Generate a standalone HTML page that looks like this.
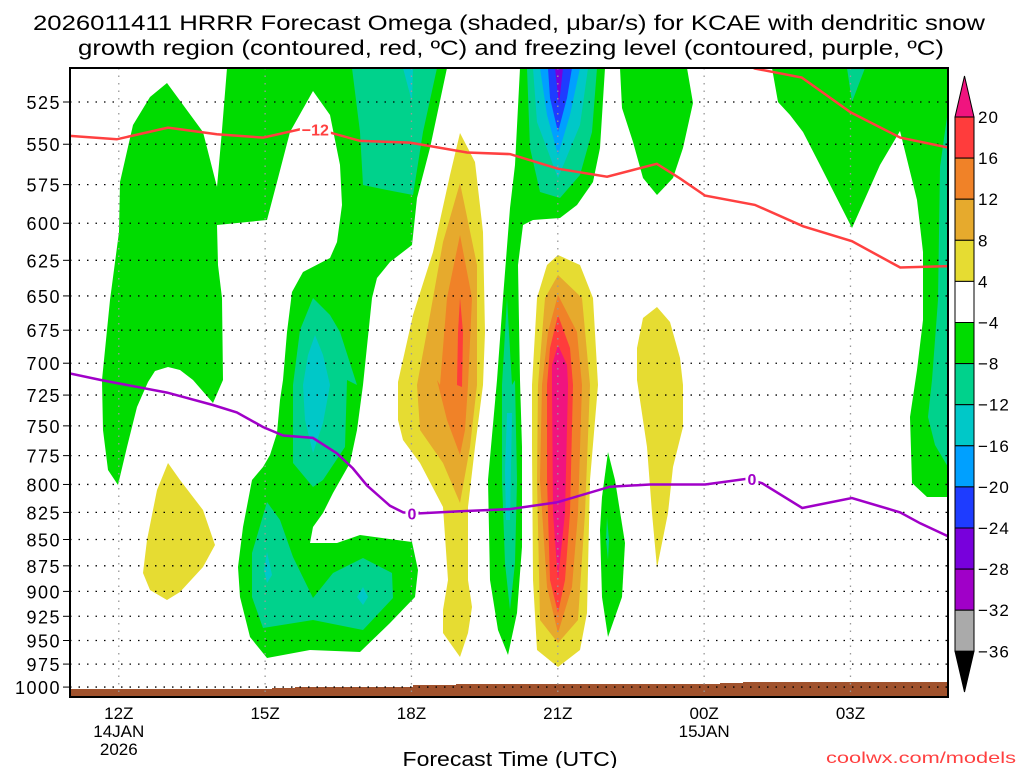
<!DOCTYPE html>
<html><head><meta charset="utf-8"><style>
html,body{margin:0;padding:0;background:#fff;}
svg{display:block;font-family:"Liberation Sans",sans-serif;}
</style></head><body>
<svg id="chart" width="1024" height="768" viewBox="0 0 1024 768">
<text x="33" y="30" font-size="21" textLength="952" lengthAdjust="spacingAndGlyphs">2026011411 HRRR Forecast Omega (shaded, μbar/s) for KCAE with dendritic snow</text>
<text x="78" y="55" font-size="21" textLength="866" lengthAdjust="spacingAndGlyphs">growth region (contoured, red, ºC) and freezing level (contoured, purple, ºC)</text>
<defs><clipPath id="plotclip"><rect x="70" y="68" width="878" height="629"/></clipPath></defs>
<g id="fills" clip-path="url(#plotclip)">
<polygon fill="#00dc00" points="227,68 447,68 430,148 417,198 412,245 390,262 377,278 372,298 363,385 357,430 350,463 333,493 323,513 313,527 310,543 337,543 360,535 412,542 418,570 415,597 390,623 360,652 310,650 267,658 250,637 240,597 238,567 243,527 252,480 263,467 270,455 277,433 280,400 283,380 287,332 292,292 303,272 330,258 337,242 342,205 340,165 330,115 313,91 290,132 277,182 267,220 217,225 217,187 222,130"/>
<polygon fill="#00dc00" points="167,83 203,132 217,187 217,225 218,265 222,298 223,380 213,403 193,380 180,370 168,367 155,371 148,382 137,407 127,447 118,485 108,470 103,430 102,380 110,300 119,232 120,182 133,125 150,97"/>
<polygon fill="#00dc00" points="520,68 605,68 600,148 593,182 577,205 560,218 533,220 523,225 518,265 520,380 522,447 522,547 517,613 508,655 498,630 490,580 488,480 497,380 503,298 510,208 515,165"/>
<polygon fill="#00dc00" points="608,452 615,480 625,543 622,597 608,637 602,597 600,530 602,497"/>
<polygon fill="#00dc00" points="620,68 687,68 693,103 683,148 673,178 657,195 643,178 633,142 622,108"/>
<polygon fill="#00dc00" points="772,68 948,68 948,497 927,497 912,483 910,417 917,370 923,320 923,252 917,200 900,131 880,165 852,228 820,165 803,132 790,115 778,102"/>
<polygon fill="#00d28c" points="352,68 437,68 423,132 413,195 387,190 363,185 360,132"/>
<polygon fill="#00d28c" points="313,298 330,315 340,332 357,385 347,380 345,447 323,480 313,487 293,463 293,385 300,330"/>
<polygon fill="#00d28c" points="267,502 280,520 293,557 313,598 333,573 363,558 392,573 393,598 363,630 313,620 263,628 252,597 252,553"/>
<polygon fill="#00d28c" points="507,298 512,385 515,380 517,480 515,563 510,610 505,563 502,480 502,385"/>
<polygon fill="#00d28c" points="527,68 597,68 592,132 580,175 560,198 540,192 530,148"/>
<polygon fill="#00d28c" points="607,517 609,540 608,560 606,540"/>
<polygon fill="#00d28c" points="948,110 940,167 938,300 932,380 928,417 935,445 948,467"/>
<polygon fill="#00d28c" points="847,68 865,68 852,102"/>
<polygon fill="#00c8c8" points="403,68 413,68 412,102"/>
<polygon fill="#00c8c8" points="315,335 323,355 330,385 323,423 313,453 305,420 303,385 308,355"/>
<polygon fill="#00c8c8" points="267,552 272,575 267,583 264,570"/>
<polygon fill="#00c8c8" points="363,587 368,597 363,605 357,597"/>
<polygon fill="#00c8c8" points="507,413 512,413 510,520 506,520 505,470"/>
<polygon fill="#00c8c8" points="533,68 588,68 580,125 558,178 537,122"/>
<polygon fill="#00a0ff" points="540,68 580,68 570,115 558,155 547,115"/>
<polygon fill="#1e3cff" points="548,68 572,68 567,98 558,132 550,98"/>
<polygon fill="#7800dc" points="555,68 563,68 559,105"/>
<polygon fill="#e6dc32" points="168,463 180,480 203,510 215,545 203,567 180,592 167,600 150,590 143,573 147,540 157,490"/>
<polygon fill="#e6dc32" points="460,133 475,162 483,232 485,332 483,385 475,447 468,507 468,580 472,607 468,633 460,657 443,633 443,610 448,580 443,507 420,463 403,440 398,420 398,382 413,315 433,252 450,175"/>
<polygon fill="#e6aa2d" points="460,183 477,265 477,385 470,447 460,503 443,463 420,430 417,385 430,315 443,242"/>
<polygon fill="#f08228" points="460,235 472,298 468,385 465,430 460,455 447,420 437,380 440,385 447,298"/>
<polygon fill="#ff3c3c" points="460,298 463,332 462,387 457,385 458,332"/>
<polygon fill="#e6dc32" points="558,255 580,265 593,298 598,385 590,480 587,613 580,650 558,667 537,650 533,580 532,447 532,385 537,298 547,265"/>
<polygon fill="#e6aa2d" points="558,275 582,298 590,385 585,513 578,620 558,643 540,620 537,480 538,385 545,298"/>
<polygon fill="#f08228" points="558,295 577,332 582,385 578,513 572,587 558,633 547,587 540,480 542,385 548,332"/>
<polygon fill="#ff3c3c" points="558,315 570,348 573,385 570,513 565,580 558,613 550,580 547,480 547,385 550,348"/>
<polygon fill="#f0147f" points="558,345 567,365 568,385 565,513 558,580 553,513 552,385 552,365"/>
<polygon fill="#e6dc32" points="657,307 670,322 680,358 683,385 683,427 673,467 668,513 657,568 652,513 647,447 637,380 637,348 643,318"/>
<polygon fill="#a0522d" points="70,689 272,689 272,688 295,688 295,687 413,687 413,685 456,685 456,684 720,684 720,683 743,683 743,682 948,682 948,697 70,697"/>
</g>
<g id="grid"></g>
<g id="lines" clip-path="url(#plotclip)"></g>
<rect x="70" y="68" width="878" height="629" fill="none" stroke="#000" stroke-width="2"/>
<g id="axes"></g>
<g id="cbar"></g>
<text x="510" y="766" font-size="20" text-anchor="middle" textLength="215" lengthAdjust="spacingAndGlyphs">Forecast Time (UTC)</text>
<text x="826" y="763" font-size="16" fill="#ff4040" textLength="190" lengthAdjust="spacingAndGlyphs">coolwx.com/models</text>
</svg>
<script>
const pressureTicks = [525,550,575,600,625,650,675,700,725,750,775,800,825,850,875,900,925,950,975,1000];
const hourTicks = [12,15,18,21,24,27];
const hourLabels = ["12Z","15Z","18Z","21Z","00Z","03Z"];
const dateLabels = {12:["14JAN","2026"],24:["15JAN"]};
const dgzLowHours = [11,11.96,13.01,14.01,14.96,15.72,16.33,16.95,17.97,19.14,20.02,21.0,22.01,23.03,23.5,24.02,25.04,26.03,27.03,28.02,29.0];
const dgzLowPres  = [545,547,540,544,546,541,543,548,549,555,556,565,570,562,571,582,588,602,612,630,629];
const dgzHighHours = [24.8,25.04,26.0,27.0,28.02,29.0];
const dgzHighPres  = [503,506,511,531,546,552];
const frzHours = [11,11.62,12.99,13.93,14.42,14.96,15.37,15.98,16.47,16.80,17.09,17.56,17.83,18.11,19.0,20.02,20.98,22.07,22.89,24.02,24.88,25.19,26.01,27.03,28.02,28.43,29.0];
const frzPres  = [708,713,723,733,739,751,758,760,773,786,801,819,825,826,824,822,816,802,800,800,795,799,821,812,825,835,847];
const cbarLabels = ["20","16","12","8","4","−4","−8","−12","−16","−20","−24","−28","−32","−36"];
const cbarColors = ["#ff3c3c","#f08228","#e6aa2d","#e6dc32","#ffffff","#00dc00","#00d28c","#00c8c8","#00a0ff","#1e3cff","#7800dc","#a000c8","#aaaaaa"];

const NS="http://www.w3.org/2000/svg";
function x(h){return 70+(h-11)*48.78;}
function y(p){return 102+908*Math.log(p/525);}
function mk(tag,attrs,parent){const e=document.createElementNS(NS,tag);for(const k in attrs)e.setAttribute(k,attrs[k]);parent.appendChild(e);return e;}

const grid=document.getElementById('grid');
const axes=document.getElementById('axes');
pressureTicks.forEach(p=>{
  const gl=mk('line',{x1:70,x2:948,y1:y(p),y2:y(p),stroke:'#000','stroke-width':1.3,'stroke-dasharray':'1.5,7'},grid);
  
  
  const tk=mk('line',{x1:63,x2:70,y1:y(p),y2:y(p),stroke:'#000','stroke-width':1},axes);
  
  
  const t=mk('text',{x:61,y:y(p)+7,'font-size':18,'text-anchor':'end','letter-spacing':'1.5'},axes);
  t.textContent=p;
  
  
});
hourTicks.forEach((h,i)=>{
  const gl=mk('line',{x1:x(h),x2:x(h),y1:68,y2:697,stroke:'#999','stroke-width':1.3,'stroke-dasharray':'1.5,6'},grid);
  
  
  const t=mk('text',{x:x(h),y:719,'font-size':17,'text-anchor':'middle'},axes);
  t.textContent=hourLabels[i];
  
  
  (dateLabels[h]||[]).forEach((s,j)=>{
    const d=mk('text',{x:x(h),y:737+j*18,'font-size':17,'text-anchor':'middle'},axes);
    d.textContent=s;
    
    
  });
});

const lines=document.getElementById('lines');
function path(hs,ps){return hs.map((h,i)=>(i?'L':'M')+x(h).toFixed(1)+','+y(ps[i]).toFixed(1)).join(' ');}
const l1=mk('path',{d:path(dgzLowHours,dgzLowPres),fill:'none',stroke:'#ff4040','stroke-width':2.5},lines);


const l2=mk('path',{d:path(dgzHighHours,dgzHighPres),fill:'none',stroke:'#ff4040','stroke-width':2.5},lines);


const l3=mk('path',{d:path(frzHours,frzPres),fill:'none',stroke:'#a000c8','stroke-width':2.5},lines);


function label(txt,h,p,color,name){
  const cx=x(h),cy=y(p);
  const w=txt.length*9+4;
  const bg=mk('rect',{x:cx-w/2,y:cy-8,width:w,height:16,fill:'#fff'},lines);
  
  
  const t=mk('text',{x:cx,y:cy+6,'font-size':16,'font-weight':'bold','text-anchor':'middle',fill:color},lines);
  t.textContent=txt;
  
  
}
label('−12',dgzLowHours[6]-0.3,dgzLowPres[6]-2,'#ff4040','dgz-contour-label');
label('0',frzHours[13]-0.1,frzPres[13],'#a000c8','freezing-contour-label-1');
label('0',frzHours[20]+0.1,frzPres[20],'#a000c8','freezing-contour-label-2');

const cb=document.getElementById('cbar');
const cbTop=117,cbStep=41.1,cbX=955,cbW=19;
const up=mk('polygon',{points:`${cbX},${cbTop} ${cbX+cbW},${cbTop} ${cbX+cbW/2},76`,fill:'#f0147f',stroke:'#000','stroke-width':1},cb);


cbarColors.forEach((c,i)=>{
  const r=mk('rect',{x:cbX,y:cbTop+i*cbStep,width:cbW,height:cbStep,fill:c,stroke:'#000','stroke-width':1},cb);
  
  
});
const bot=cbTop+cbarColors.length*cbStep;
const dn=mk('polygon',{points:`${cbX},${bot} ${cbX+cbW},${bot} ${cbX+cbW/2},692`,fill:'#000',stroke:'#000','stroke-width':1},cb);


cbarLabels.forEach((s,i)=>{
  const t=mk('text',{x:978,y:cbTop+i*cbStep+6,'font-size':17,'letter-spacing':'1'},cb);
  t.textContent=s;
  
  
});
</script>
</body></html>
